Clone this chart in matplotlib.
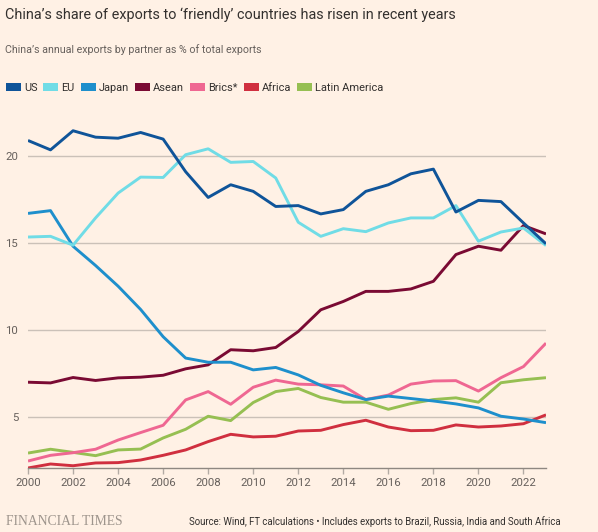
import numpy as np
import matplotlib
matplotlib.use("Agg")
import matplotlib.pyplot as plt
from matplotlib.patches import Rectangle

plt.rcParams['font.family'] = ['Roboto', 'DejaVu Sans']

# data (% of China's total exports)
years = list(range(2000, 2024))
us = [20.9, 20.36, 21.46, 21.09, 21.03, 21.36, 20.98, 19.1, 17.62, 18.35, 17.97, 17.1,
      17.15, 16.67, 16.92, 17.97, 18.35, 18.98, 19.25, 16.78, 17.45, 17.38, 16.15, 14.95]
eu = [15.34, 15.38, 14.87, 16.44, 17.87, 18.79, 18.77, 20.08, 20.42, 19.64, 19.69, 18.74,
      16.19, 15.38, 15.82, 15.65, 16.15, 16.44, 16.44, 17.15, 15.1, 15.63, 15.86, 14.85]
japan = [16.7, 16.86, 14.81, 13.7, 12.51, 11.17, 9.6, 8.37, 8.13, 8.13, 7.69, 7.83,
         7.4, 6.8, 6.37, 5.98, 6.18, 6.04, 5.9, 5.73, 5.5, 5.02, 4.86, 4.65]
asean = [6.98, 6.94, 7.25, 7.08, 7.23, 7.27, 7.38, 7.75, 7.98, 8.85, 8.79, 8.98,
         9.9, 11.15, 11.63, 12.21, 12.21, 12.35, 12.79, 14.33, 14.81, 14.58, 16.0, 15.52]
brics = [2.44, 2.77, 2.92, 3.12, 3.65, 4.08, 4.5, 5.96, 6.44, 5.71, 6.69, 7.1,
         6.87, 6.83, 6.76, 5.98, 6.24, 6.87, 7.05, 7.07, 6.47, 7.24, 7.88, 9.23]
africa = [2.04, 2.27, 2.17, 2.33, 2.35, 2.5, 2.77, 3.08, 3.56, 3.98, 3.83, 3.87,
          4.17, 4.21, 4.54, 4.79, 4.4, 4.19, 4.21, 4.52, 4.4, 4.46, 4.59, 5.1]
latam = [2.9, 3.12, 2.94, 2.75, 3.08, 3.13, 3.77, 4.27, 5.02, 4.77, 5.81, 6.44,
         6.62, 6.1, 5.83, 5.83, 5.42, 5.75, 5.98, 6.08, 5.83, 6.95, 7.12, 7.24]

names = ['US', 'EU', 'Japan', 'Asean', 'Brics*', 'Africa', 'Latin America']
series = [us, eu, japan, asean, brics, africa, latam]
colours = ['#0f5499', '#70dce6', '#1e8fcc', '#7a0a33', '#ef6792', '#d02f3f', '#96bf52']

xticks = list(range(2000, 2023, 2))
yticks = [5, 10, 15, 20]

bg = '#fff1e5'
W, H = 598, 532

def fx(px):
    return px / W

def fy(py):
    return 1 - py / H

fig = plt.figure(figsize=(W / 100, H / 100), dpi=100, facecolor=bg)
ax = fig.add_axes([fx(28), fy(468), (546 - 28) / W, (468 - 104) / H])
ax.set_facecolor(bg)

# draw in reverse so US ends up on top, like the original
for vals, col in reversed(list(zip(series, colours))):
    ax.plot(years, vals, color=col, lw=2.1, solid_joinstyle='round', solid_capstyle='butt')

ax.set_xlim(2000, 2023)
ax.set_ylim(2.04, 23)
ax.set_xticks(xticks)
ax.set_yticks(yticks)
ax.grid(axis='y', color='#cbc1b8', lw=1)
ax.set_axisbelow(True)
for s in ['top', 'right', 'left']:
    ax.spines[s].set_visible(False)
ax.spines['bottom'].set_color('#8e8781')
ax.spines['bottom'].set_linewidth(1)
ax.tick_params(axis='y', length=0, pad=7, labelsize=8.2, labelcolor='#66605c')
ax.tick_params(axis='x', length=4, width=1, color='#b3aba4', pad=3, labelsize=8.2, labelcolor='#66605c')

# titles
fig.text(fx(5), fy(19.3), u'China\u2019s share of exports to \u2018friendly\u2019 countries has risen in recent years',
         fontsize=10.4, color='#33302e', va='baseline')
fig.text(fx(5), fy(52.7), u'China\u2019s annual exports by partner as % of total exports',
         fontsize=7.7, color='#66605c', va='baseline')

# legend drawn by hand: coloured block + label
fig.canvas.draw()
renderer = fig.canvas.get_renderer()
x = 6
for name, col in zip(names, colours):
    fig.patches.append(Rectangle((fx(x), fy(91.3)), 15 / W, 8 / H, transform=fig.transFigure,
                                 facecolor=col, edgecolor='none'))
    t = fig.text(fx(x + 18), fy(91.3), name, fontsize=7.9, color='#33302e', va='baseline')
    x = x + 18 + t.get_window_extent(renderer).width + 6

# footer
fig.text(fx(6), fy(525), 'FINANCIAL TIMES', family=['Liberation Serif'], fontsize=9.8,
         color='#9e958d', va='baseline')
fig.text(fx(561), fy(525), u'Source: Wind, FT calculations \u2022 Includes exports to Brazil, Russia, India and South Africa',
         fontsize=6.9, color='#33302e', ha='right', va='baseline')

fig.savefig('out.png', dpi=100, facecolor=bg)
